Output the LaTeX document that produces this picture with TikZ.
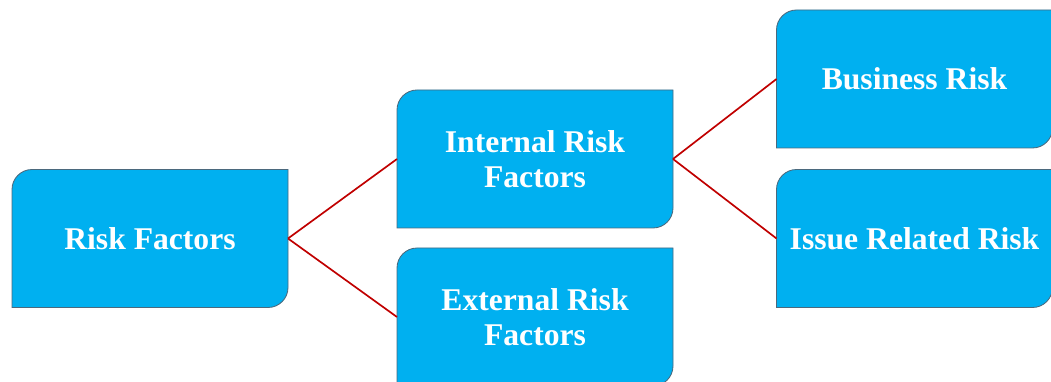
\documentclass[tikz,border=0pt]{standalone}
\usepackage{fontspec}
\setmainfont{Liberation Serif}
\usetikzlibrary{positioning,calc,backgrounds}
\definecolor{boxblue}{RGB}{0,176,240}
\definecolor{boxedge}{RGB}{75,105,125}
\definecolor{linkred}{RGB}{192,0,0}

\begin{document}
\begin{tikzpicture}[
  riskbox/.style={minimum width=6.9cm, minimum height=3.45cm, inner sep=0pt, outer sep=0pt,
    align=center, text=white, font=\fontsize{22.5}{24.5}\selectfont\bfseries},
  link/.style={draw=linkred, line width=1.2pt}
]
\useasboundingbox (0,0) rectangle (26.275,9.525);

% Boxes
\node[riskbox] (risk) at (3.75,3.5625) {Risk Factors};
\node[riskbox] (internal) at (13.375,5.55) {Internal Risk\\Factors};
\node[riskbox] (external) at (13.375,1.6) {External Risk\\Factors};
\node[riskbox] (business) at (22.8625,7.55) {Business Risk};
\node[riskbox] (issue) at (22.8625,3.5625) {Issue Related Risk};

% Box shapes (rounded top left and bottom right)
\begin{scope}[on background layer]
\clip (0,0) rectangle (26.275,9.525);
\foreach \n in {risk,internal,external,business,issue}
  \filldraw[fill=boxblue, draw=boxedge, line width=0.6pt]
    (\n.south west) -- ($(\n.north west)+(0,-0.5)$) arc[start angle=180, end angle=90, radius=0.5]
    -- (\n.north east) -- ($(\n.south east)+(0,0.5)$) arc[start angle=0, end angle=-90, radius=0.5]
    -- cycle;
\end{scope}

% Connectors
\draw[link] (risk.east) -- (internal.west);
\draw[link] (risk.east) -- (external.west);
\draw[link] (internal.east) -- (business.west);
\draw[link] (internal.east) -- (issue.west);
\end{tikzpicture}
\end{document}
